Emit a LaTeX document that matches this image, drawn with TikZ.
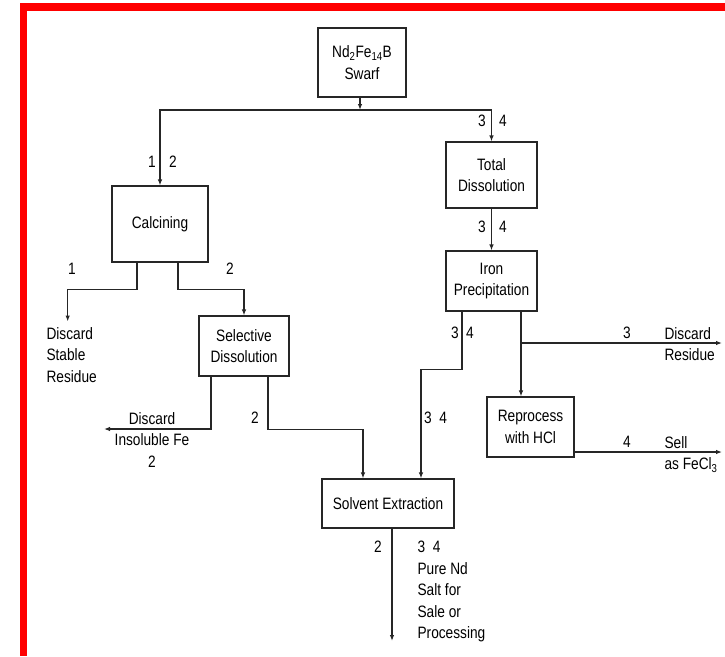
\documentclass[tikz,border=0pt]{standalone}
\usepackage{fontspec}
\setmainfont{Liberation Sans}[FakeStretch=0.83]
\usetikzlibrary{arrows.meta}

\begin{document}
\begin{tikzpicture}[x=1pt, y=-1pt, line width=1.1pt, draw=black!85,
            >={Latex[length=6pt,width=4.5pt]},
            proc/.style={draw, align=center, inner sep=0pt, font=\fontsize{16.5}{21.5}\selectfont},
            num/.style={inner sep=0pt, font=\fontsize{16.5}{21.5}\selectfont},
            note/.style={inner sep=0pt, align=left, anchor=north west, font=\fontsize{16.5}{21.5}\selectfont}]
            \useasboundingbox (0,0) rectangle (725,656);
            % Frame
            \fill[red] (20,3) rectangle (725,11);
            \fill[red] (20,3) rectangle (27,656);

            % Process boxes
            \node[proc, minimum width=88pt, minimum height=69pt] (swarf) at (362,62.5) {Nd\textsubscript{2}Fe\textsubscript{14}B\\Swarf};
            \node[proc, minimum width=96pt, minimum height=76pt] (calc) at (160,224) {Calcining};
            \node[proc, minimum width=91pt, minimum height=66pt] (total) at (491.5,175) {Total\\Dissolution};
            \node[proc, minimum width=91pt, minimum height=60pt] (iron) at (491.5,281) {Iron\\Precipitation};
            \node[proc, minimum width=90pt, minimum height=60pt] (select) at (244,346) {Selective\\Dissolution};
            \node[proc, minimum width=87pt, minimum height=60pt] (reproc) at (530.5,427) {Reprocess\\with HCl};
            \node[proc, minimum width=132pt, minimum height=49pt] (solvent) at (388,503.5) {Solvent Extraction};

            % Outlets
            \node[note] (stable) at (46,326.5) {Discard\\Stable\\Residue};
            \node[note, align=center, anchor=north] (insol) at (152,411.5) {Discard\\Insoluble Fe\\2};
            \node[note] (residue) at (664,326.5) {Discard\\Residue};
            \node[note] (sell) at (664,435.5) {Sell\\as FeCl\textsubscript{3}};
            \node[note] (pure) at (417,540.5) {3~~4\\Pure Nd\\Salt for\\Sale or\\Processing};
            \coordinate (fork) at (360,110);
            \coordinate (fork2) at (521,343);
            \coordinate (insolout) at (104,429);
            \coordinate (residout) at (722,343);
            \coordinate (sellout) at (722,452);
            \coordinate (prodout) at (392,641);

            % Flow lines
            \draw[->] ([xshift=-2pt]swarf.south) -- (fork);
            \draw[->] (fork) -| (calc);
            \draw[->] (fork) -| (total);
            \draw[->] ([xshift=-23pt]calc.south) -- ++(0,27) -| ([xshift=-4pt,yshift=5pt]stable.north);
            \draw[->] ([xshift=18pt]calc.south) -- ++(0,27) -| (select);
            \draw[->] ([xshift=-33pt]select.south) |- (insolout);
            \draw[->] ([xshift=24pt]select.south) -- ++(0,53) -| ([xshift=-25pt]solvent.north);
            \draw[->] (total) -- (iron);
            \draw[->] ([xshift=-29.5pt]iron.south) -- ++(0,58) -| ([xshift=33pt]solvent.north);
            \draw[->] ([xshift=29.5pt]iron.south) -- ([xshift=-9.5pt]reproc.north);
            \draw[->] (fork2) -- (residout);
            \draw[->] ([yshift=-25pt]reproc.east) -- (sellout);
            \draw[->] ([xshift=4pt]solvent.south) -- (prodout);

            % Labels
            \node[num] (a1) at (152,162) {1};
            \node[num] (a2) at (173,162) {2};
            \node[num] (b3) at (482,121) {3};
            \node[num] (b4) at (503,121) {4};
            \node[num] (c3) at (482,227) {3};
            \node[num] (c4) at (503,227) {4};
            \node[num] (d1) at (72,269) {1};
            \node[num] (d2) at (230,269) {2};
            \node[num] (e3) at (455,333) {3};
            \node[num] (e4) at (470,333) {4};
            \node[num] (f3) at (627,333) {3};
            \node[num] (g2) at (255,418) {2};
            \node[num] (h34) at (435.5,418) {3~~4};
            \node[num] (k4) at (627,442) {4};
            \node[num] (m2) at (378,547) {2};

        \end{tikzpicture}
\end{document}
